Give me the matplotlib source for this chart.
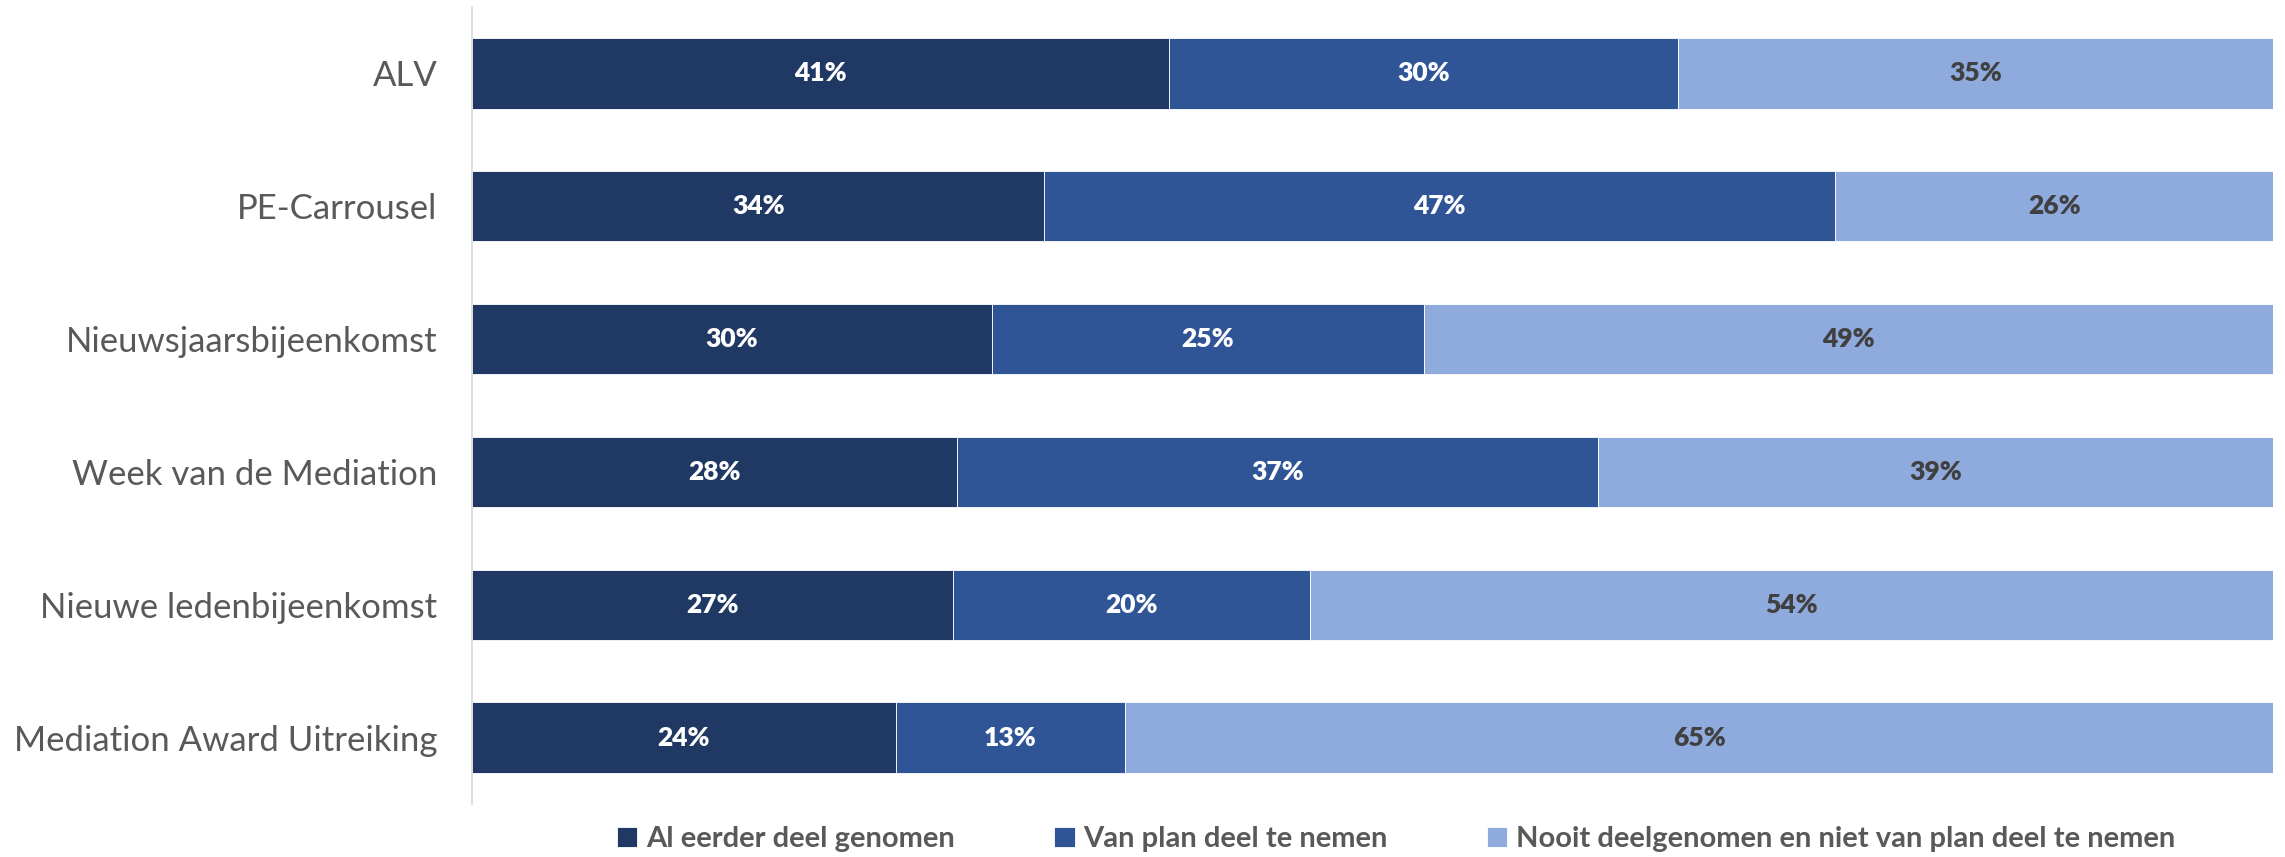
import matplotlib.pyplot as plt
import numpy as np

categories = ['ALV', 'PE-Carrousel', 'Nieuwsjaarsbijeenkomst', 'Week van de Mediation',
              'Nieuwe ledenbijeenkomst', 'Mediation Award Uitreiking']
al_eerder = [41, 34, 30, 28, 27, 24]
van_plan = [30, 47, 25, 37, 20, 13]
nooit = [35, 26, 49, 39, 54, 65]
series_names = ['Al eerder deel genomen', 'Van plan deel te nemen',
                'Nooit deelgenomen en niet van plan deel te nemen']

colors = ['#203864', '#2F5597', '#8FAADC']
text_colors = ['white', 'white', '#404040']

plt.rcParams['font.family'] = ['Lato', 'DejaVu Sans']

fig = plt.figure(figsize=(22.85, 8.57), dpi=100)
ax = fig.add_axes([0.2066, 0.0618, 0.9947 - 0.2066, 0.9918 - 0.0618])

# bars are stacked to full width, labels show the raw percentages
data = np.array([al_eerder, van_plan, nooit], dtype=float)
totals = data.sum(axis=0)
shares = data / totals
y = np.arange(len(categories))

left = np.zeros(len(categories))
handles = []
for i in range(3):
    bars = ax.barh(y, shares[i], left=left, height=0.53, color=colors[i],
                   edgecolor='white', linewidth=0.6, label=series_names[i])
    handles.append(bars)
    for j, b in enumerate(bars):
        ax.text(left[j] + shares[i][j] / 2, y[j], f'{int(data[i][j])}%',
                ha='center', va='center', color=text_colors[i],
                fontsize=19, fontweight='heavy')
    left += shares[i]

ax.set_xlim(0, 1)
ax.set_ylim(len(categories) - 0.5, -0.5)
ax.set_yticks(y)
ax.set_yticklabels(categories, fontsize=25, color='#595959')
ax.tick_params(axis='y', length=0, pad=25)
ax.set_xticks([])
for s in ['top', 'right', 'bottom']:
    ax.spines[s].set_visible(False)
ax.spines['left'].set_color('#D9D9D9')
ax.spines['left'].set_linewidth(1.2)

leg = fig.legend(handles, series_names, loc='center', bbox_to_anchor=(0.611, 0.021),
                 ncol=3, frameon=False, fontsize=21, handlelength=0.7, handleheight=0.7,
                 handletextpad=0.3, columnspacing=3.4)
for t in leg.get_texts():
    t.set_color('#595959')
    t.set_fontweight('bold')

fig.savefig('out.png', dpi=100)
